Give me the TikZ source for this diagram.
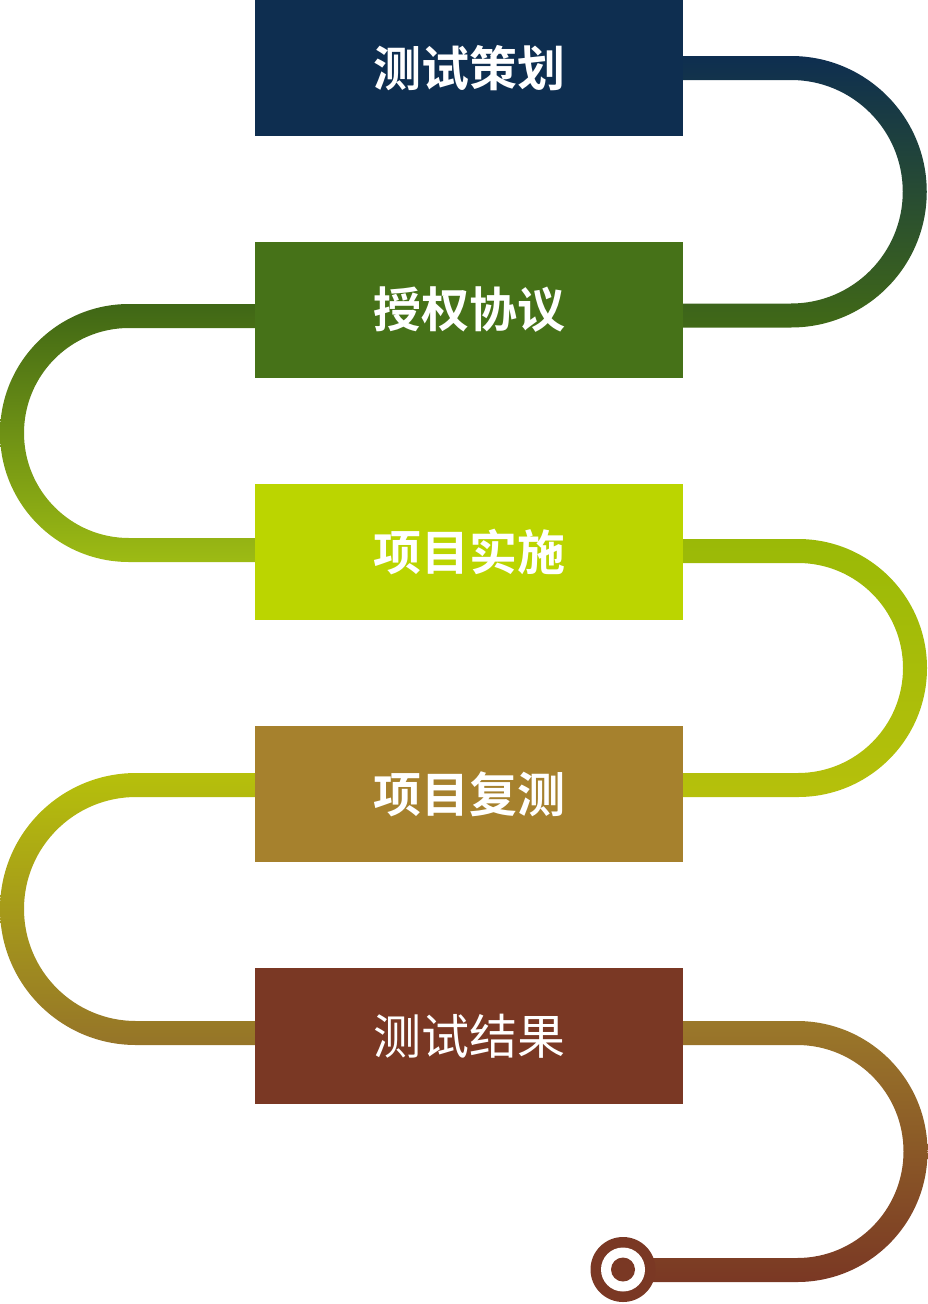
\documentclass[tikz,border=0pt]{standalone}
\usepackage{fontspec}
\newfontfamily\cjk{Noto Sans CJK SC}[BoldFont={Noto Sans CJK SC Bold}]
\definecolor{cA}{HTML}{0E2E50}
\definecolor{cB}{HTML}{467218}
\definecolor{cC}{HTML}{BBD500}
\definecolor{cD}{HTML}{A6812D}
\definecolor{cE}{HTML}{7A3824}
\newcommand\myloopR[5]{%
  \shade[#5] (#4,{#2+#3+12}) -- (#1,{#2+#3+12})
    arc[start angle=90,end angle=-90,radius={#3+12}] -- (#4,{#2-#3-12})
    -- (#4,{#2-#3+12}) -- (#1,{#2-#3+12})
    arc[start angle=-90,end angle=90,radius={#3-12}] -- (#4,{#2+#3-12}) -- cycle;}
\newcommand\myloopL[5]{%
  \shade[#5] (#4,{#2+#3+12}) -- (#1,{#2+#3+12})
    arc[start angle=90,end angle=270,radius={#3+12}] -- (#4,{#2-#3-12})
    -- (#4,{#2-#3+12}) -- (#1,{#2-#3+12})
    arc[start angle=270,end angle=90,radius={#3-12}] -- (#4,{#2+#3-12}) -- cycle;}
\begin{document}
\begin{tikzpicture}[x=1pt,y=1pt,
  stepbox/.style={rectangle,minimum width=428pt,minimum height=136pt,inner sep=0pt,outer sep=0pt,
    text=white,font=\cjk\fontsize{48}{54}\selectfont}]
\useasboundingbox (0,-1304) rectangle (928,0);
% connectors (shaded bands)
\myloopR{791}{-191.75}{123.75}{670}{top color=cA,bottom color=cB!92!black}
\myloopL{129}{-433}{117}{270}{top color=cB!90!black,bottom color=cC!70!cB!95!white}
\myloopR{798}{-668}{117}{670}{top color=cC!72!cB,middle color=cC,bottom color=cC!75!cD}
\myloopL{136}{-909}{124}{270}{top color=cC!75!cD,bottom color=cD!90!black}
\myloopR{797}{-1151.5}{118.5}{623}{top color=cD!93!black,bottom color=cE}
% end marker
\fill[cE] (623,-1269.5) circle[radius=32.5];
\fill[white] (623,-1269.5) circle[radius=22];
\fill[cE] (623,-1269.5) circle[radius=12];
\coordinate (endpt) at (623,-1269.5);
% boxes
\node[stepbox,fill=cA] (b1) at (469,-68) {\bfseries 测试策划};
\node[stepbox,fill=cB] (b2) at (469,-310) {\bfseries 授权协议};
\node[stepbox,fill=cC] (b3) at (469,-552) {\bfseries 项目实施};
\node[stepbox,fill=cD] (b4) at (469,-794) {\bfseries 项目复测};
\node[stepbox,fill=cE] (b5) at (469,-1036) {测试结果};
\end{tikzpicture}
\end{document}
